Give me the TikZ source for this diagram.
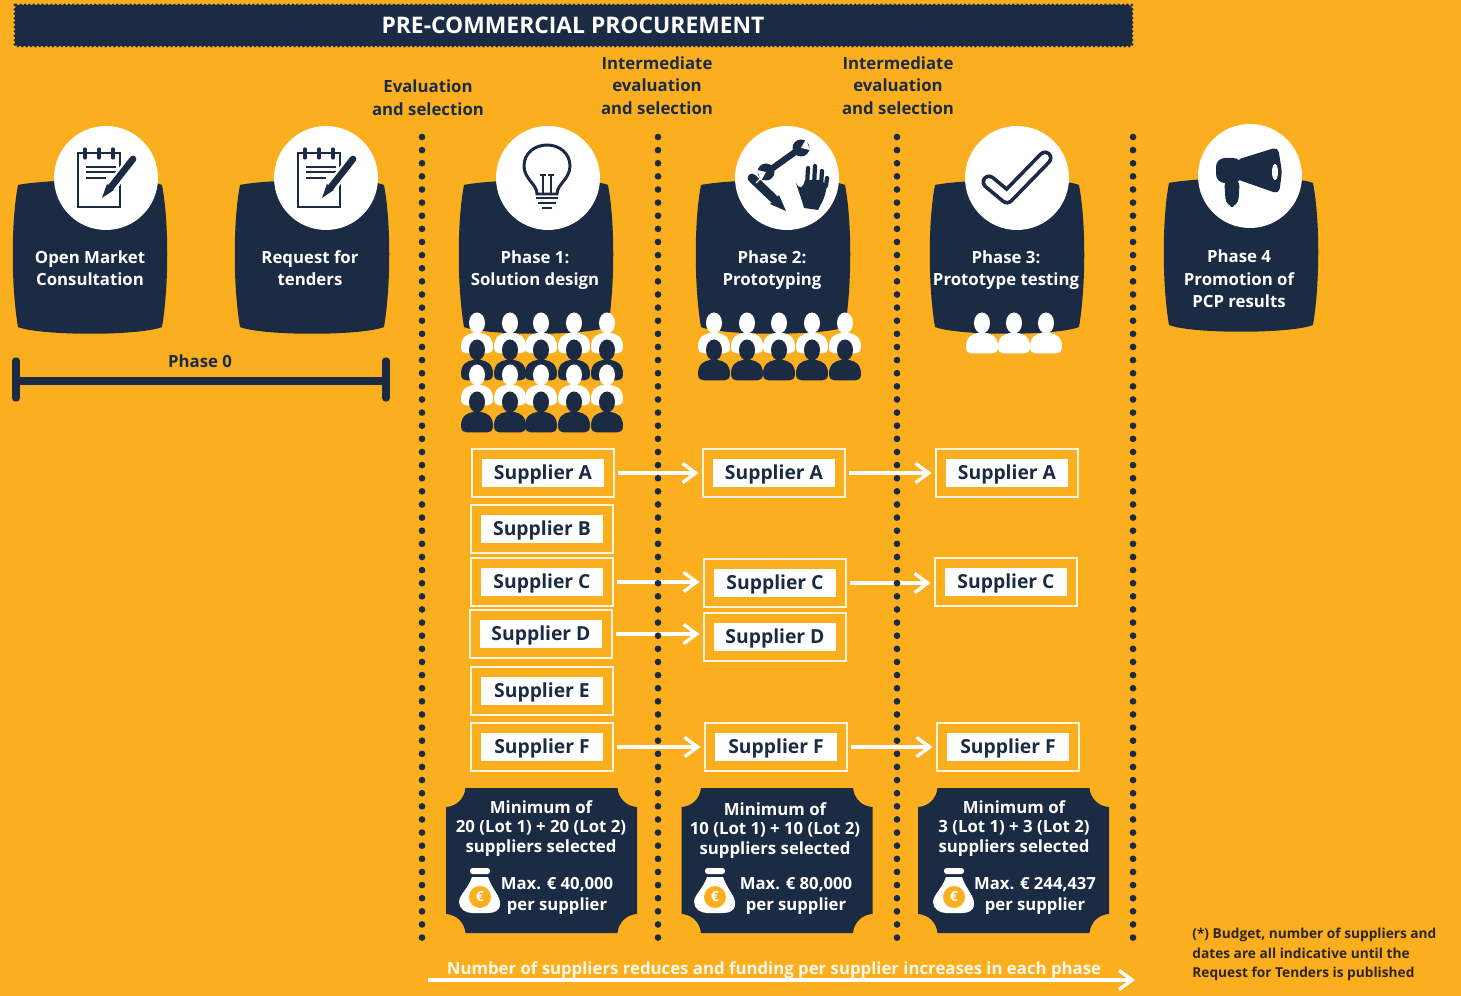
\documentclass[tikz,border=0pt]{standalone}
\usepackage{fontspec}
\setmainfont{Open Sans}
\usetikzlibrary{arrows.meta}
\definecolor{amber}{RGB}{251,175,30}
\definecolor{navy}{RGB}{27,43,68}
\definecolor{ink}{RGB}{46,38,30}

\tikzset{
  >={Straight Barb[length=7.5pt,width=11pt]},
  labeltext/.style={text=white,align=center,inner sep=0pt,font=\bfseries\fontsize{9.55}{12.8}\selectfont},
  gatetext/.style={text=navy,align=center,inner sep=0pt,font=\bfseries\fontsize{9.55}{12.8}\selectfont},
  tickettext/.style={text=white,align=center,inner sep=0pt,font=\bfseries\fontsize{9.55}{11.3}\selectfont},
  budgettext/.style={text=white,align=center,inner sep=0pt,font=\bfseries\fontsize{9.5}{11.9}\selectfont},
  iconcircle/.style={circle,fill=white,minimum size=2.08cm,inner sep=0pt},
  supbox/.style={draw=white!85!amber,line width=1.1pt,minimum width=2.84cm,minimum height=.95cm,inner sep=0pt},
  supfill/.style={fill=white,text=navy,minimum width=2.46cm,minimum height=.58cm,inner sep=0pt,
    text height=8.5pt,text depth=0.7pt,font=\bfseries\fontsize{11}{13}\selectfont},
  flowarrow/.style={->,white,line width=1.9pt,shorten <=2pt,shorten >=2pt},
  dotline/.style={navy,line width=3.8pt,line cap=round,dash pattern=on 0pt off 7.47pt},
  barline/.style={navy,line width=4.2pt,line cap=round},
  blob/.pic={
    \fill[navy] (-72,-71) .. controls (-50,-76) and (50,-80) .. (72,-71)
      .. controls (79,-35) and (79,30) .. (72,71)
      .. controls (50,80) and (-50,80) .. (-72,71)
      .. controls (-79,30) and (-79,-35) .. cycle;
  },
  ticket/.pic={
    \fill[navy] (-76,-72.5) -- (76,-72.5) .. controls (77,-62) and (85,-54) .. (95.5,-53.5)
      -- (95.5,53.5) .. controls (85,54) and (77,62) .. (76,72.5)
      -- (-76,72.5) .. controls (-77,62) and (-85,54) .. (-95.5,53.5)
      -- (-95.5,-53.5) .. controls (-85,-54) and (-77,-62) .. cycle;
  },
  person/.pic={
    \fill[pic actions] (0,0) ellipse (8 and 10.5);
    \fill[pic actions] (-16,24) .. controls (-16,14) and (-10,11) .. (-4,10) -- (4,10) .. controls (10,11) and (16,14) .. (16,24)
      .. controls (16,29) and (13,30.5) .. (10,30.5) -- (-10,30.5) .. controls (-13,30.5) and (-16,29) .. cycle;
  },
  notepad/.pic={
    \draw[navy,line width=1.5pt] (-28,-25) rectangle (14,29);
    \foreach \u in {-21,-7,7} \draw[navy,line width=1.8pt,line cap=round] (\u,-29) -- (\u,-20);
    \foreach \v/\w in {-11/10,-6/10,0/0} \draw[navy,line width=1.1pt] (-20,\v) -- (\w,\v);
    \draw[white,line width=6.5pt] (27,-19) -- (2,13);
    \draw[navy,line width=3.8pt,line cap=round] (27,-19) -- (5,9);
    \fill[navy] (1,6) -- (8,12) -- (-4,20) -- cycle;
  },
  moneybag/.pic={
    \fill[white,rounded corners=1.5pt] (-10,-29) rectangle (10,-23);
    \fill[white] (-8,-20) -- (8,-20) .. controls (12,-8) and (21,0) .. (20,7)
      .. controls (20,14) and (14,16) .. (8,16) -- (-8,16)
      .. controls (-14,16) and (-21,12) .. (-21,5) .. controls (-21,-2) and (-12,-8) .. cycle;
    \fill[amber] (0,0) circle (11);
  }
}

\begin{document}
\begin{tikzpicture}[x=0.02cm,y=-0.02cm]
  \fill[amber] (0,0) rectangle (1461,996);
  \useasboundingbox (0,0) rectangle (1461,996);

  % Title banner
  \fill[navy,rounded corners=2pt] (15,5) rectangle (1132,46);
  \draw[navy,line width=1.8pt,line cap=round,dash pattern=on 0pt off 2.5pt] (15,5) rectangle (1132,46);
  \node[text=white,inner sep=0pt,font=\bfseries\fontsize{13}{15}\selectfont] (title) at (573,25) {PRE-COMMERCIAL PROCUREMENT};

  % Gate captions
  \node[gatetext] (gate1) at (428,97.5) {Evaluation\\and selection};
  \node[gatetext] (gate2) at (657,85.5) {Intermediate\\evaluation\\and selection};
  \node[gatetext] (gate3) at (898,85.5) {Intermediate\\evaluation\\and selection};

  % Phase cards
  \foreach \x/\y in {90/256,312/256,536/256,773/256,1007/256,1241/254}
    \pic at (\x,\y) {blob};
  \foreach \name/\x/\y in {ic0/106/178,ic1/326/178,ic2/548/178,ic3/787/178,ic4/1017/178,ic5/1250/176}
    \node[iconcircle] (\name) at (\x,\y) {};

  \foreach \name/\x/\y/\txt in {lab0/90/268/{Open Market\\Consultation},lab1/310/268/{Request for\\tenders},
      lab2/535/270/{Phase 1:\\Solution design},lab3/772/270/{Phase 2:\\Prototyping},
      lab4/1006/270/{Phase 3:\\Prototype testing},lab5/1239/279/{Phase 4\\Promotion of\\PCP results}}
    \node[labeltext] (\name) at (\x,\y) {\txt};

  % Icons
  \pic at (106,178) {notepad};
  \pic at (326,178) {notepad};

  % bulb
  \draw[navy,line width=1.7pt] (537,194) .. controls (537,184) and (524,179) .. (524,166)
    .. controls (524,153) and (535,145) .. (547,145) .. controls (559,145) and (570,153) .. (570,166)
    .. controls (570,179) and (557,184) .. (557,194) -- cycle;
  \draw[navy,line width=1.5pt] (543,194) -- (543,176) (551,194) -- (551,176) (540,175) -- (546,175) (548,175) -- (554,175);
  \draw[navy,line width=1.5pt] (536,198) -- (558,198) (538,203) -- (556,203) (542,208) -- (552,208);

  % wrench, pencil and glove
  \draw[navy,line width=3.6pt] (770,170) -- (798,150);
  \fill[navy] (766,172) circle (8.5) (801,148) circle (8.5);
  \fill[white] (757,170) -- (766,172) -- (761,181) -- cycle (810,150) -- (801,148) -- (806,139) -- cycle;
  \draw[navy,line width=5pt,line cap=round] (752,178) -- (774,199);
  \fill[navy] (770,204) -- (779,195) -- (786,211) -- cycle;
  \draw[white,line width=.8pt] (756,183) -- (760,179);
  \fill[navy] (796,183) .. controls (800,190) and (803,188) .. (805,180) -- (820,180) -- (827,185)
    .. controls (825,200) and (820,205) .. (818,210) -- (804,208) .. controls (802,200) and (798,190) .. cycle;
  \foreach \u/\v in {808/168,815/166,822/171,827/178}
    \draw[navy,line width=2.4pt,line cap=round] (\u-1,186) -- (\u,\v);

  % check mark
  \draw[navy,line width=8.6pt,line cap=round,line join=round] (989,182) -- (1007,197) -- (1045,158);
  \draw[white,line width=4.4pt,line cap=round,line join=round] (989,182) -- (1007,197) -- (1045,158);

  % megaphone
  \fill[navy,rounded corners=5pt] (1216,158) -- (1242,158) -- (1242,183) -- (1216,183) -- cycle;
  \fill[navy,rounded corners=3pt] (1236,160) -- (1278,147) -- (1282,172) -- (1279,194) -- (1236,179) -- cycle;
  \fill[navy,rounded corners=5pt] (1224,178) -- (1240,178) -- (1238,207) -- (1226,207) -- cycle;
  \fill[white] (1275,172) ellipse (3 and 8);

  % Phase 0 bar
  \coordinate (bara) at (16,381);
  \coordinate (barb) at (386,381);
  \coordinate (bara1) at (16,361);
  \coordinate (bara2) at (16,398);
  \coordinate (barb1) at (386,361);
  \coordinate (barb2) at (386,398);
  \draw[barline] (bara) -- (barb);
  \draw[barline] (bara1) -- (bara2);
  \draw[barline] (barb1) -- (barb2);
  \node[text=navy,inner sep=0pt,font=\bfseries\fontsize{9.55}{12}\selectfont] (phase0) at (200,361) {Phase 0};

  % Suppliers
  \foreach \y/\c in {323/white,350/navy,375/white,402/navy}
    \foreach \x in {477,510,541,574,607}
      \pic[fill=\c] at (\x,\y) {person};
  \foreach \y/\c in {323/white,350/navy}
    \foreach \x in {714,747,779,812,845}
      \pic[fill=\c] at (\x,\y) {person};
  \foreach \x in {982,1014,1046}
    \pic[fill=white] at (\x,323) {person};

  \foreach \name/\x/\y/\l in {s1a/543/473/A,s1b/542/529/B,s1c/542/582/C,s1d/541/634/D,s1e/542/691/E,s1f/542/747/F,
      s2a/774/473/A,s2c/775/583/C,s2d/775/637/D,s2f/776/747/F,
      s3a/1007/473/A,s3c/1006/582/C,s3f/1008/747/F}{
    \node[supbox] (\name) at (\x,\y) {};
    \node[supfill] (\name t) at (\x,\y) {Supplier \l};
  }

  \draw[flowarrow] (s1a.east) -- (s2a.west);
  \draw[flowarrow] (s2a.east) -- (s3a.west);
  \draw[flowarrow] (s1c.east) -- (s2c.west |- s1c.east);
  \draw[flowarrow] (s2c.east) -- (s3c.west |- s2c.east);
  \draw[flowarrow] (s1d.east) -- (s2d.west |- s1d.east);
  \draw[flowarrow] (s1f.east) -- (s2f.west);
  \draw[flowarrow] (s2f.east) -- (s3f.west);

  % Dotted gates
  \foreach \name/\x in {a/422,b/658,c/897,d/1133}{
    \coordinate (gate\name top) at (\x,137);
    \coordinate (gate\name end) at (\x,941);
    \draw[dotline] (gate\name top) -- (gate\name end);
  }

  % Budget tickets
  \foreach \x in {541.5,777,1013.5}
    \pic at (\x,860.5) {ticket};
  \node[tickettext] (sel1) at (541,828.5) {Minimum of\\20 (Lot 1) + 20 (Lot 2)\\suppliers selected};
  \node[tickettext] (sel2) at (775,830.5) {Minimum of\\10 (Lot 1) + 10 (Lot 2)\\suppliers selected};
  \node[tickettext] (sel3) at (1014,828.5) {Minimum of\\3 (Lot 1) + 3 (Lot 2)\\suppliers selected};
  \foreach \name/\x/\bx/\amount in {1/557/480/40{,}000,2/796/715/80{,}000,3/1035/954/244{,}437}{
    \pic at (\bx,897) {moneybag};
    \node[text=white,inner sep=0pt,font=\bfseries\fontsize{8}{9}\selectfont] (eur\name) at (\bx,897) {€};
    \node[budgettext] (max\name) at (\x,896) {Max. € \amount\\per supplier};
  }

  % Bottom arrow and note
  \coordinate (trenda) at (428,980);
  \coordinate (trendb) at (1135,980);
  \draw[->,white,line width=1.9pt] (trenda) -- (trendb);
  \node[text=white!92!amber,inner sep=0pt,font=\bfseries\fontsize{9.55}{12}\selectfont] (trend) at (774,970.5)
    {Number of suppliers reduces and funding per supplier increases in each phase};
  \node[text=ink,anchor=west,align=left,inner sep=0pt,font=\bfseries\fontsize{7.8}{10.9}\selectfont] (note) at (1192,954.5)
    {(*) Budget, number of suppliers and\\dates are all indicative until the\\Request for Tenders is published};
\end{tikzpicture}
\end{document}
